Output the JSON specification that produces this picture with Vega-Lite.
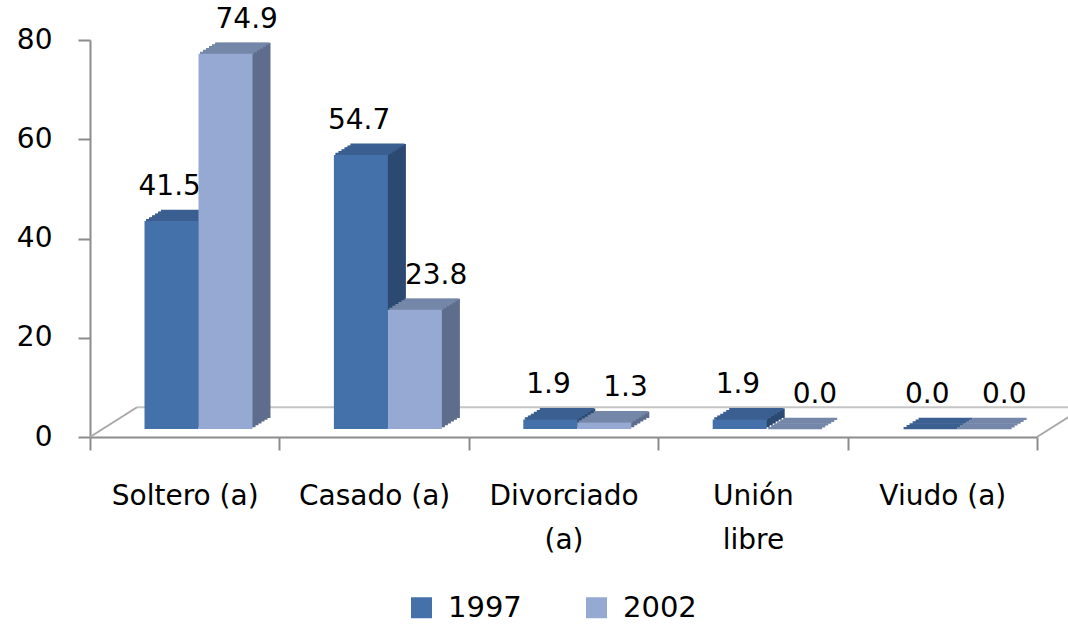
{
  "$schema": "https://vega.github.io/schema/vega-lite/v6.json",
  "width": 947,
  "height": 397,
  "autosize": "none",
  "padding": {"left": 90, "top": 40, "right": 31, "bottom": 189},
  "background": "white",
  "config": {"view": {"stroke": null}, "font": "DejaVu Sans"},
  "data": {"values": [
    {"estado": "Soltero (a)", "serie": "1997", "valor": 41.5},
    {"estado": "Soltero (a)", "serie": "2002", "valor": 74.9},
    {"estado": "Casado (a)", "serie": "1997", "valor": 54.7},
    {"estado": "Casado (a)", "serie": "2002", "valor": 23.8},
    {"estado": "Divorciado (a)", "serie": "1997", "valor": 1.9},
    {"estado": "Divorciado (a)", "serie": "2002", "valor": 1.3},
    {"estado": "Unión libre", "serie": "1997", "valor": 1.9},
    {"estado": "Unión libre", "serie": "2002", "valor": 0.0},
    {"estado": "Viudo (a)", "serie": "1997", "valor": 0.0},
    {"estado": "Viudo (a)", "serie": "2002", "valor": 0.0}
  ]},
  "resolve": {"scale": {"x": "independent", "y": "independent"}},
  "layer": [
    {
      "data": {"values": [{}]},
      "layer": [
        {
          "mark": {"type": "rule", "color": "#a8a8a8", "strokeWidth": 2, "x2Offset": 47},
          "encoding": {
            "x": {"datum": 0, "type": "quantitative", "scale": {"domain": [0, 5], "nice": false, "zero": false}, "axis": null},
            "x2": {"datum": 0},
            "y": {"datum": 0, "type": "quantitative", "scale": {"domain": [0, 80], "nice": false},
              "axis": {"orient": "left", "title": null, "values": [0, 20, 40, 60, 80], "labelFont": "DejaVu Sans", "labelFontSize": 28, "labelColor": "#000", "labelPadding": 26, "tickSize": 12, "tickColor": "#8c8c8c", "tickWidth": 2, "domainColor": "#8c8c8c", "domainWidth": 2, "grid": false}},
            "y2": {"datum": 6}
          }
        },
        {
          "mark": {"type": "rule", "color": "#a8a8a8", "strokeWidth": 2, "x2Offset": 47},
          "encoding": {
            "x": {"datum": 5, "type": "quantitative"},
            "x2": {"datum": 5},
            "y": {"datum": 0, "type": "quantitative"},
            "y2": {"datum": 6}
          }
        },
        {
          "mark": {"type": "rule", "color": "#c4c4c4", "strokeWidth": 2, "xOffset": 47, "x2Offset": 47},
          "encoding": {
            "x": {"datum": 0, "type": "quantitative"},
            "x2": {"datum": 5},
            "y": {"datum": 6, "type": "quantitative"}
          }
        }
      ]
    },
    {
      "encoding": {
        "x": {"field": "estado", "type": "nominal",
          "scale": {"domain": ["Soltero (a)", "Casado (a)", "Divorciado (a)", "Unión libre", "Viudo (a)"], "paddingInner": 0, "paddingOuter": 0},
          "axis": {"orient": "bottom", "title": null, "tickBand": "extent", "labelAngle": 0, "labelFont": "DejaVu Sans", "labelFontSize": 28, "labelColor": "#000", "labelPadding": 32, "labelLineHeight": 44, "labelLimit": 0, "tickSize": 13, "tickColor": "#8c8c8c", "tickWidth": 2, "domainColor": "#8c8c8c", "domainWidth": 2, "grid": false,
            "labelExpr": "indexof(['Divorciado (a)','Unión libre'], datum.label) >= 0 ? split(datum.label, ' ') : datum.label"}},
        "y": {"field": "valor", "type": "quantitative", "stack": null, "scale": {"domain": [0, 79.25], "nice": false, "zero": true}, "axis": null}
      },
      "layer": [
        {"transform": [{"filter": "datum.serie == '1997'"}], "encoding": {"y2": {"datum": 0}}, "mark": {"type": "bar", "width": 54, "opacity": 1, "color": "#2c4a71", "xOffset": -10.2, "yOffset": -9.85, "y2Offset": -9.85}},
        {"transform": [{"filter": "datum.serie == '1997'"}], "encoding": {"y2": {"datum": 0}}, "mark": {"type": "bar", "width": 54, "opacity": 1, "color": "#2c4a71", "xOffset": -7.2, "yOffset": -11.7, "y2Offset": -11.7}},
        {"transform": [{"filter": "datum.serie == '1997'"}], "encoding": {"y2": {"datum": 0}}, "mark": {"type": "bar", "width": 54, "opacity": 1, "color": "#2c4a71", "xOffset": -4.2, "yOffset": -13.55, "y2Offset": -13.55}},
        {"transform": [{"filter": "datum.serie == '1997'"}], "encoding": {"y2": {"datum": 0}}, "mark": {"type": "bar", "width": 54, "opacity": 1, "color": "#2c4a71", "xOffset": -1.2, "yOffset": -15.4, "y2Offset": -15.4}},
        {"transform": [{"filter": "datum.serie == '1997'"}], "encoding": {"y2": {"datum": 0}}, "mark": {"type": "bar", "width": 54, "opacity": 1, "color": "#2c4a71", "xOffset": 1.8, "yOffset": -17.25, "y2Offset": -17.25}},
        {"transform": [{"filter": "datum.serie == '1997'"}], "encoding": {"y2": {"datum": 0}}, "mark": {"type": "bar", "width": 54, "opacity": 1, "color": "#2c4a71", "xOffset": 4.8, "yOffset": -19.1, "y2Offset": -19.1}},
        {"transform": [{"filter": "datum.serie == '1997'"}], "mark": {"type": "tick", "orient": "horizontal", "size": 54, "thickness": 2.4, "opacity": 1, "color": "#3a5f90", "xOffset": -11.7, "yOffset": -8.925}},
        {"transform": [{"filter": "datum.serie == '1997'"}], "mark": {"type": "tick", "orient": "horizontal", "size": 54, "thickness": 2.4, "opacity": 1, "color": "#3a5f90", "xOffset": -8.7, "yOffset": -10.775}},
        {"transform": [{"filter": "datum.serie == '1997'"}], "mark": {"type": "tick", "orient": "horizontal", "size": 54, "thickness": 2.4, "opacity": 1, "color": "#3a5f90", "xOffset": -5.7, "yOffset": -12.625}},
        {"transform": [{"filter": "datum.serie == '1997'"}], "mark": {"type": "tick", "orient": "horizontal", "size": 54, "thickness": 2.4, "opacity": 1, "color": "#3a5f90", "xOffset": -2.7, "yOffset": -14.475}},
        {"transform": [{"filter": "datum.serie == '1997'"}], "mark": {"type": "tick", "orient": "horizontal", "size": 54, "thickness": 2.4, "opacity": 1, "color": "#3a5f90", "xOffset": 0.3, "yOffset": -16.325}},
        {"transform": [{"filter": "datum.serie == '1997'"}], "mark": {"type": "tick", "orient": "horizontal", "size": 54, "thickness": 2.4, "opacity": 1, "color": "#3a5f90", "xOffset": 3.3, "yOffset": -18.175}},
        {"transform": [{"filter": "datum.serie == '1997'"}], "mark": {"type": "bar", "width": 54, "opacity": 1, "xOffset": -13.2, "yOffset": -8, "y2Offset": -8},
          "encoding": {"y2": {"datum": 0}, "color": {"field": "serie", "type": "nominal", "scale": {"domain": ["1997", "2002"], "range": ["#4471a9", "#95a9d2"]},
            "legend": {"orient": "none", "legendX": 317, "legendY": 553, "direction": "horizontal", "title": null, "padding": 0, "symbolType": "square", "symbolSize": 441, "symbolStrokeWidth": 0, "symbolOpacity": 1, "labelFont": "DejaVu Sans", "labelFontSize": 29, "labelColor": "#000", "labelOffset": 12, "columnPadding": 60}}}},
        {"transform": [{"filter": "datum.serie == '1997'"}], "mark": {"type": "text", "font": "DejaVu Sans", "fontSize": 28, "color": "#000", "baseline": "middle", "dx": -15, "dy": -42},
          "encoding": {"text": {"field": "valor", "type": "quantitative", "format": ".1f"}}},

        {"transform": [{"filter": "datum.serie == '2002'"}], "encoding": {"y2": {"datum": 0}}, "mark": {"type": "bar", "width": 54, "opacity": 1, "color": "#5e6d8b", "xOffset": 43.8, "yOffset": -9.85, "y2Offset": -9.85}},
        {"transform": [{"filter": "datum.serie == '2002'"}], "encoding": {"y2": {"datum": 0}}, "mark": {"type": "bar", "width": 54, "opacity": 1, "color": "#5e6d8b", "xOffset": 46.8, "yOffset": -11.7, "y2Offset": -11.7}},
        {"transform": [{"filter": "datum.serie == '2002'"}], "encoding": {"y2": {"datum": 0}}, "mark": {"type": "bar", "width": 54, "opacity": 1, "color": "#5e6d8b", "xOffset": 49.8, "yOffset": -13.55, "y2Offset": -13.55}},
        {"transform": [{"filter": "datum.serie == '2002'"}], "encoding": {"y2": {"datum": 0}}, "mark": {"type": "bar", "width": 54, "opacity": 1, "color": "#5e6d8b", "xOffset": 52.8, "yOffset": -15.4, "y2Offset": -15.4}},
        {"transform": [{"filter": "datum.serie == '2002'"}], "encoding": {"y2": {"datum": 0}}, "mark": {"type": "bar", "width": 54, "opacity": 1, "color": "#5e6d8b", "xOffset": 55.8, "yOffset": -17.25, "y2Offset": -17.25}},
        {"transform": [{"filter": "datum.serie == '2002'"}], "encoding": {"y2": {"datum": 0}}, "mark": {"type": "bar", "width": 54, "opacity": 1, "color": "#5e6d8b", "xOffset": 58.8, "yOffset": -19.1, "y2Offset": -19.1}},
        {"transform": [{"filter": "datum.serie == '2002'"}], "mark": {"type": "tick", "orient": "horizontal", "size": 54, "thickness": 2.4, "opacity": 1, "color": "#7587a9", "xOffset": 42.3, "yOffset": -8.925}},
        {"transform": [{"filter": "datum.serie == '2002'"}], "mark": {"type": "tick", "orient": "horizontal", "size": 54, "thickness": 2.4, "opacity": 1, "color": "#7587a9", "xOffset": 45.3, "yOffset": -10.775}},
        {"transform": [{"filter": "datum.serie == '2002'"}], "mark": {"type": "tick", "orient": "horizontal", "size": 54, "thickness": 2.4, "opacity": 1, "color": "#7587a9", "xOffset": 48.3, "yOffset": -12.625}},
        {"transform": [{"filter": "datum.serie == '2002'"}], "mark": {"type": "tick", "orient": "horizontal", "size": 54, "thickness": 2.4, "opacity": 1, "color": "#7587a9", "xOffset": 51.3, "yOffset": -14.475}},
        {"transform": [{"filter": "datum.serie == '2002'"}], "mark": {"type": "tick", "orient": "horizontal", "size": 54, "thickness": 2.4, "opacity": 1, "color": "#7587a9", "xOffset": 54.3, "yOffset": -16.325}},
        {"transform": [{"filter": "datum.serie == '2002'"}], "mark": {"type": "tick", "orient": "horizontal", "size": 54, "thickness": 2.4, "opacity": 1, "color": "#7587a9", "xOffset": 57.3, "yOffset": -18.175}},
        {"transform": [{"filter": "datum.serie == '2002'"}], "mark": {"type": "bar", "width": 54, "opacity": 1, "xOffset": 40.8, "yOffset": -8, "y2Offset": -8},
          "encoding": {"y2": {"datum": 0}, "color": {"field": "serie", "type": "nominal"}}},
        {"transform": [{"filter": "datum.serie == '2002'"}], "mark": {"type": "text", "font": "DejaVu Sans", "fontSize": 28, "color": "#000", "baseline": "middle", "dx": 62, "dy": -42},
          "encoding": {"text": {"field": "valor", "type": "quantitative", "format": ".1f"}}}
      ]
    }
  ]
}
